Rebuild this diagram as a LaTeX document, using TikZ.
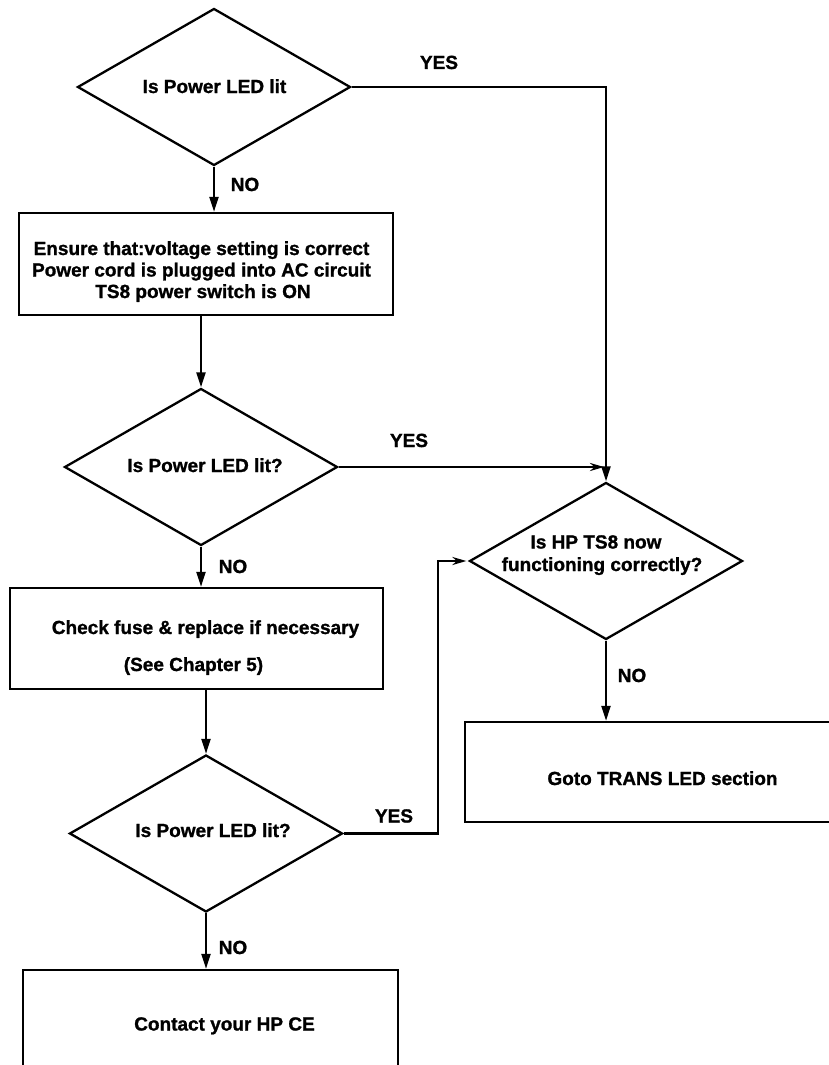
\documentclass[tikz,border=0pt]{standalone}
\usepackage{fontspec}
\setmainfont{Liberation Sans}[BoldFeatures={FakeBold=1.2}]
\usetikzlibrary{shapes.geometric,arrows.meta}
\begin{document}
\begin{tikzpicture}[x=1pt,y=-1pt,
  line width=2.3pt,
  dia/.style={draw, diamond, minimum width=273pt, minimum height=157pt, inner sep=0pt},
  box/.style={draw, rectangle, inner sep=0pt},
  txt/.style={anchor=base, inner sep=0pt, font=\bfseries\fontsize{19}{22}\selectfont},
  arr/.style={-{Triangle[length=15pt,width=9pt]}},
  harr/.style={-{Stealth[length=14pt,width=8pt]}, shorten >=2pt}]
\useasboundingbox (0,0) rectangle (828,1065);

% shapes
\node[dia] (d1) at (214,87) {};
\node[box, minimum width=374pt, minimum height=102pt] (b1) at (206,264) {};
\node[dia] (d2) at (201,467) {};
\node[box, minimum width=373pt, minimum height=101pt] (b2) at (196.5,638.5) {};
\node[dia] (d3) at (606,561) {};
\node[box, minimum width=395pt, minimum height=100pt] (b3) at (662.5,772) {};
\node[dia] (d4) at (206,833.5) {};
\node[box, minimum width=375pt, minimum height=102pt] (b4) at (210.5,1021) {};

% texts
\node[txt] (t1) at (214.5,93) {Is Power LED lit};
\node[txt] (t2a) at (201.5,255) {Ensure that:voltage setting is correct};
\node[txt] (t2b) at (201.5,276.5) {Power cord is plugged into AC circuit};
\node[txt] (t2c) at (203,298) {TS8 power switch is ON};
\node[txt] (t3) at (205,472) {Is Power LED lit?};
\node[txt] (t4a) at (205.5,634) {Check fuse \& replace if necessary};
\node[txt] (t4b) at (193.5,671) {(See Chapter 5)};
\node[txt] (t5a) at (596,548.5) {Is HP TS8 now};
\node[txt] (t5b) at (602,571) {functioning correctly?};
\node[txt] (t6) at (662.5,785) {Goto TRANS LED section};
\node[txt] (t7) at (213,837) {Is Power LED lit?};
\node[txt] (t8) at (224.5,1030.5) {Contact your HP CE};

% labels
\node[txt] (yes1) at (439,69) {YES};
\node[txt] (no1) at (245,191) {NO};
\node[txt] (yes2) at (409,447) {YES};
\node[txt] (no2) at (233,573) {NO};
\node[txt] (no3) at (632,682) {NO};
\node[txt] (yes3) at (394,822.5) {YES};
\node[txt] (no4) at (233,954) {NO};

% connectors
\draw[arr] (d1.south) -- (d1.south |- b1.north);
\draw[arr] (d1.east) -| (d3.north);
\draw[arr] (d2.north |- b1.south) -- (d2.north);
\draw[harr] (d2.east) -- (d2.east -| d3.north);
\draw[arr] (d2.south) -- (d2.south |- b2.north);
\draw[arr] (d3.south) -- (d3.south |- b3.north);
\draw[arr] (d4.north |- b2.south) -- (d4.north);
\coordinate (lp) at (438,561);
\draw[harr] (d4.east) -| (lp) -- (d3.west);
\draw[arr] (d4.south) -- (d4.south |- b4.north);
\end{tikzpicture}
\end{document}
